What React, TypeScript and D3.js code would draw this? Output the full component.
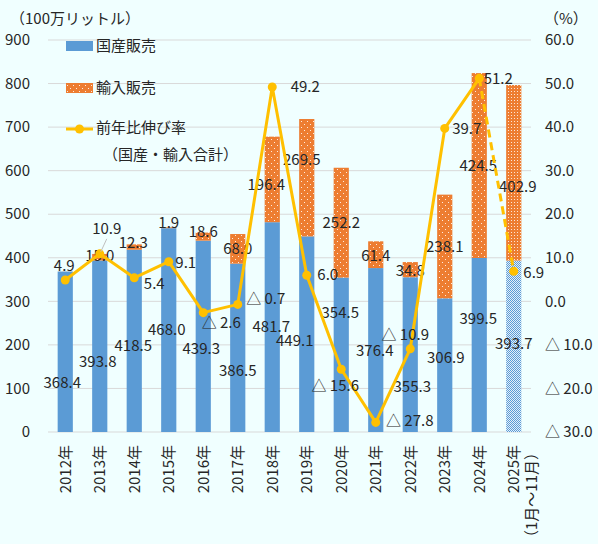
import React, { useEffect } from "react";
import * as d3 from "d3";

// data
const years = ["2012年", "2013年", "2014年", "2015年", "2016年", "2017年", "2018年", "2019年", "2020年", "2021年", "2022年", "2023年", "2024年", "2025年"];
const domestic = [368.4, 393.8, 418.5, 468.0, 439.3, 386.5, 481.7, 449.1, 354.5, 376.4, 355.3, 306.9, 399.5, 393.7];
const imported = [0.2, 15.0, 12.3, 1.9, 18.6, 68.0, 196.4, 269.5, 252.2, 61.4, 34.8, 238.1, 424.5, 402.9];
const growth = [4.9, 10.9, 5.4, 9.1, -2.6, -0.7, 49.2, 6.0, -15.6, -27.8, -10.9, 39.7, 51.2, 6.9];
const leftTicks = [0, 100, 200, 300, 400, 500, 600, 700, 800, 900];
const rightTicks = [-30, -20, -10, 0, 10, 20, 30, 40, 50, 60];

// label nudges [dx, dy] in px (layout only)
const domOff = [[-3, 31], [-2, 16], [-1, 5], [-2, 0], [-2, 12], [0, 23], [-1, 0], [-12, 7], [-1, -42], [-1, 1], [2, 32], [1, -7], [-1, -26], [0, -3]];
const impOff = [[0, 0], [0, -1], [-1, -4], [0, -5], [0, -5], [0, 0], [-6, 5], [-5, -18], [0, 0], [0, 1], [0, 1], [0, 0], [-1, 0], [4, 14]];
const grOff = [[-1, -14], [7, -25], [20, 6], [17, 1], [18, 10], [28, -6], [33, 0], [21, 0], [-6, 16], [34, -2], [-5, -14], [22, 0], [19, 0], [20, 1]];

const BLUE = "#5B9BD5";
const ORANGE = "#ED7D31";
const GOLD = "#FFC000";
const TXT = "#262626";
const FONT = "'Noto Sans CJK JP', 'Noto Sans', sans-serif";

const fmtPct = (v: number) => (v < 0 ? "△ " + Math.abs(v).toFixed(1) : v.toFixed(1));

export default function App() {
  useEffect(() => {
    document.body.style.margin = "0";
  }, []);

  const W = 598, H = 544;
  const x = d3.scaleBand().domain(years).range([48, 531]).paddingInner(0.56).paddingOuter(0.28);
  const yL = d3.scaleLinear().domain([0, 900]).range([432, 40]);
  const yR = d3.scaleLinear().domain([-30, 60]).range([432, 40]);
  const bw = x.bandwidth();
  const cx = (i: number) => (x(years[i]) as number) + bw / 2;
  const last = years.length - 1;

  const pts = growth.map((g, i) => [cx(i), yR(g)] as [number, number]);
  const line = d3.line();
  const solidPath = line(pts.slice(0, last)) || "";
  const dashPath = line(pts.slice(last - 1)) || "";

  return (
    <svg width={W} height={H} style={{ display: "block", background: "#F0FFFF" }} fontFamily={FONT}>
      <defs>
        <pattern id="dots" width="6" height="6" patternUnits="userSpaceOnUse">
          <rect width="6" height="6" fill={ORANGE} />
          <rect x="1" y="1" width="1" height="1" fill="#fff" opacity="0.85" />
          <rect x="4" y="4" width="1" height="1" fill="#fff" opacity="0.85" />
        </pattern>
        <pattern id="dots2" width="3" height="3" patternUnits="userSpaceOnUse">
          <rect width="3" height="3" fill={ORANGE} />
          <rect x="1" y="1" width="1" height="1" fill="#fff" opacity="0.8" />
        </pattern>
        <pattern id="check" width="2" height="2" patternUnits="userSpaceOnUse">
          <rect width="2" height="2" fill="#E4F0FA" />
          <rect x="0" y="0" width="1" height="1" fill={BLUE} />
          <rect x="1" y="1" width="1" height="1" fill={BLUE} />
        </pattern>
      </defs>

      {/* grid */}
      {leftTicks.map((t) => (
        <line key={t} x1={48} x2={531} y1={yL(t)} y2={yL(t)} stroke="#D9D9D9" strokeWidth={1} />
      ))}

      {/* left axis */}
      {leftTicks.map((t) => (
        <text key={t} x={30} y={yL(t)} dy="0.35em" textAnchor="end" fontSize={15} fill={TXT}>{t}</text>
      ))}
      {/* right axis */}
      {rightTicks.map((t) => (
        <text key={t} x={545} y={yR(t)} dy="0.35em" textAnchor="start" fontSize={15} fill={TXT}>{fmtPct(t)}</text>
      ))}
      <text x={10} y={24} fontSize={15} fill={TXT}>（100万リットル）</text>
      <text x={544} y={24} fontSize={15} fill={TXT}>（%）</text>

      {/* bars */}
      {years.map((yr, i) => (
        <g key={yr}>
          <rect x={x(yr)} width={bw} y={yL(domestic[i])} height={yL(0) - yL(domestic[i])}
            fill={i === last ? "url(#check)" : BLUE} />
          <rect x={x(yr)} width={bw} y={yL(domestic[i] + imported[i])} height={yL(domestic[i]) - yL(domestic[i] + imported[i])}
            fill={i === last ? "url(#dots2)" : "url(#dots)"} />
        </g>
      ))}

      {/* x labels */}
      {years.map((yr, i) => (
        <text key={yr} transform={`translate(${cx(i)},445) rotate(-90)`} textAnchor="end" dy="0.35em" fontSize={15} fill={TXT}>{yr}</text>
      ))}
      <text transform={`translate(${cx(last) + 18},445) rotate(-90)`} textAnchor="end" dy="0.35em" fontSize={15} fill={TXT}>（1月～11月）</text>

      {/* bar labels */}
      {domestic.map((v, i) => (
        <text key={"d" + i} x={cx(i) + domOff[i][0]} y={yL(v / 2) + domOff[i][1]} dy="0.35em" textAnchor="middle" fontSize={15} fill={TXT}>{v.toFixed(1)}</text>
      ))}
      {imported.map((v, i) => i === 0 ? null : (
        <text key={"m" + i} x={cx(i) + impOff[i][0]} y={yL(domestic[i] + v / 2) + impOff[i][1]} dy="0.35em" textAnchor="middle" fontSize={15} fill={TXT}>{v.toFixed(1)}</text>
      ))}

      {/* growth line */}
      <path d={solidPath} fill="none" stroke={GOLD} strokeWidth={3} strokeLinejoin="round" />
      <path d={dashPath} fill="none" stroke={GOLD} strokeWidth={3} strokeDasharray="8,5" />
      {pts.map((p, i) => (
        <circle key={i} cx={p[0]} cy={p[1]} r={4.5} fill={GOLD} />
      ))}
      {/* leader line for 2013 */}
      <line x1={pts[1][0] + 1} y1={pts[1][1] - 2} x2={pts[1][0] + grOff[1][0]} y2={pts[1][1] + grOff[1][1] + 10} stroke="#BFBFBF" strokeWidth={1} />
      {growth.map((g, i) => (
        <text key={"g" + i} x={pts[i][0] + grOff[i][0]} y={pts[i][1] + grOff[i][1]} dy="0.35em" textAnchor="middle" fontSize={15} fill={TXT}>{fmtPct(g)}</text>
      ))}

      {/* legend */}
      <rect x={66} y={41} width={27} height={10} fill={BLUE} />
      <text x={96} y={46} dy="0.35em" fontSize={15} fill={TXT}>国産販売</text>
      <rect x={66} y={83} width={27} height={10} fill="url(#dots)" />
      <text x={96} y={88} dy="0.35em" fontSize={15} fill={TXT}>輸入販売</text>
      <line x1={66} x2={93} y1={129} y2={129} stroke={GOLD} strokeWidth={3} />
      <circle cx={79.5} cy={129} r={4.5} fill={GOLD} />
      <text x={96} y={128} dy="0.35em" fontSize={15} fill={TXT}>前年比伸び率</text>
      <text x={103} y={155} dy="0.35em" fontSize={15} fill={TXT}>（国産・輸入合計）</text>
    </svg>
  );
}
